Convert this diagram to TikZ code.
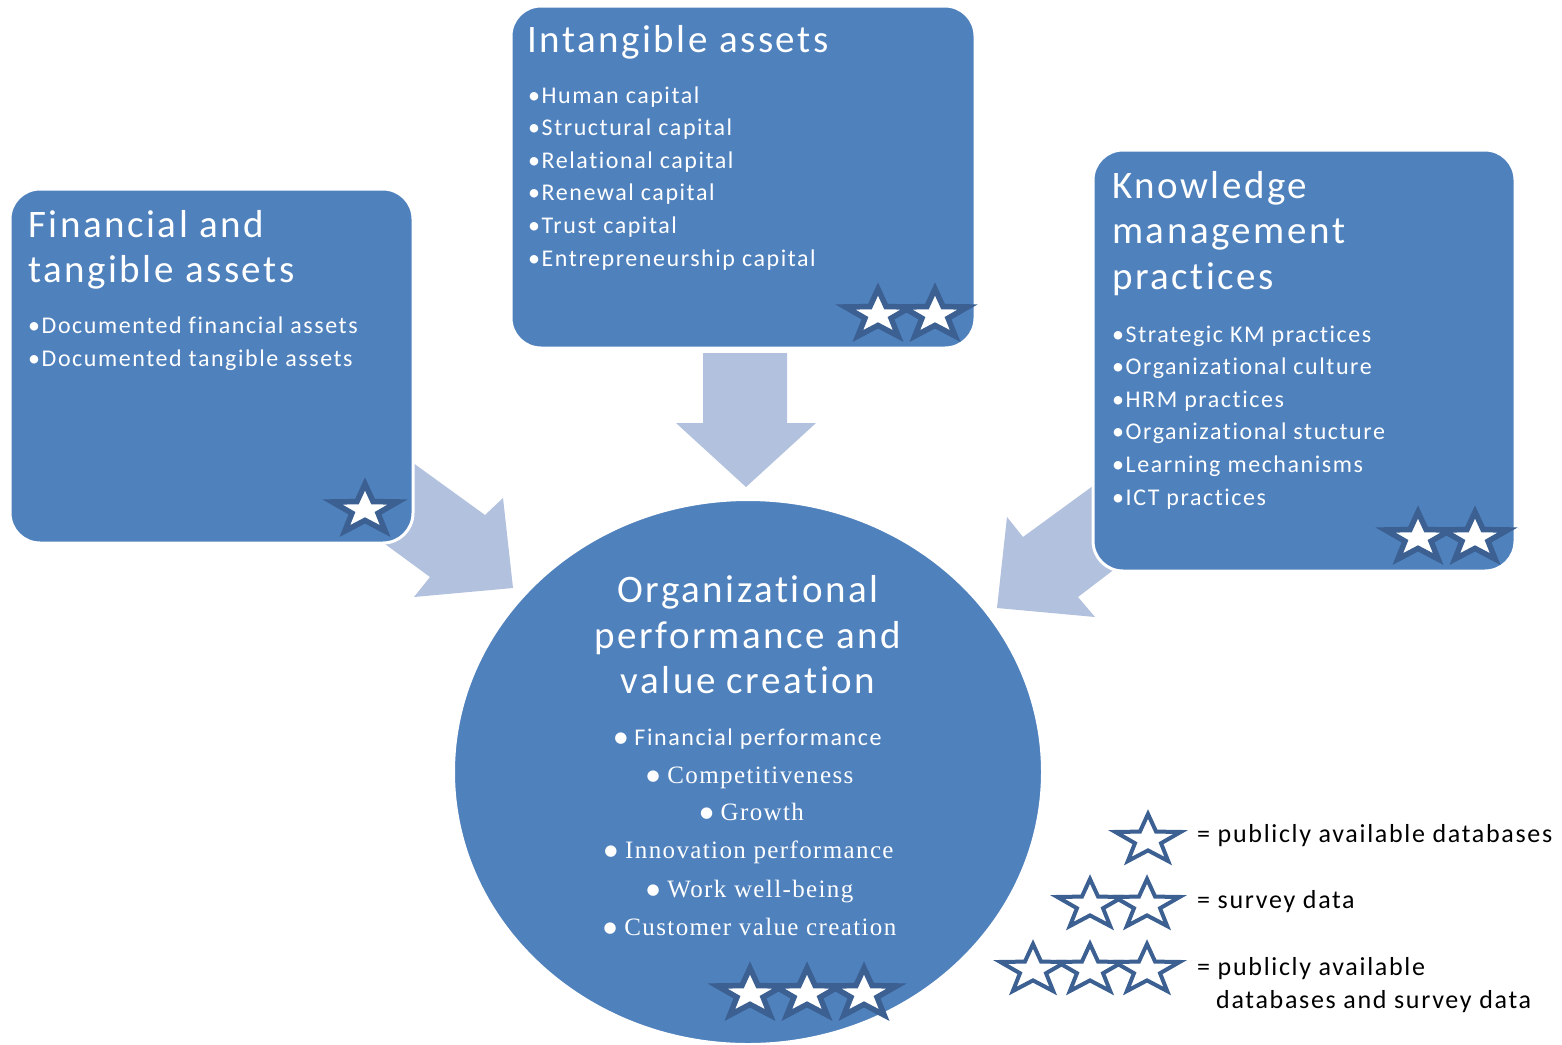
\documentclass[tikz,border=0pt]{standalone}
\usepackage{fontspec}
\setmainfont{Carlito}
\newfontfamily\headfont[LetterSpace=6.5, Ligatures=NoCommon]{Carlito}
\newfontfamily\keyfont[LetterSpace=6.5, Ligatures=NoCommon]{Carlito}
\newfontfamily\romanfont[LetterSpace=5.5]{Liberation Serif}
\newfontfamily\dotfont{DejaVu Sans}
\usetikzlibrary{shapes.geometric}

\definecolor{boxblue}{RGB}{79,129,189}
\definecolor{flowblue}{RGB}{178,193,221}
\definecolor{stardark}{RGB}{59,96,145}

% round bullet used in the list inside the ellipse
\newcommand{\hubdot}{\raisebox{3pt}{\dotfont\fontsize{15pt}{15pt}\selectfont ●}\ }

\tikzset{
  box/.style={rectangle, fill=boxblue, draw=white, line width=3pt,
    rounded corners=30pt, inner sep=0pt, outer sep=0pt},
  hub/.style={ellipse, fill=boxblue, draw=white, line width=2pt,
    inner sep=0pt, outer sep=0pt, minimum width=588pt, minimum height=544pt},
  flow/.style={fill=flowblue},
  headline/.style={text=white, inner sep=0pt, anchor=base west,
    font={\headfont\fontsize{39pt}{46pt}\selectfont}},
  hubline/.style={headline, anchor=base},
  itemline/.style={text=white, inner sep=0pt, anchor=base west,
    font={\headfont\fontsize{24pt}{32pt}\selectfont}},
  hubitem/.style={text=white, inner sep=0pt, anchor=base,
    font={\romanfont\fontsize{25pt}{38pt}\selectfont}},
  keyline/.style={text=black, inner sep=0pt, anchor=base west,
    font={\keyfont\fontsize{26pt}{33pt}\selectfont}},
  boxstar/.style={fill=white, draw=stardark, line width=5.5pt},
  keystar/.style={fill=white, draw=stardark, line width=4pt},
  starmark/.pic={
    \path[pic actions, xscale=1.32] (270:26)
      \foreach \k in {1,...,9}{ -- ({270+36*\k}:{ifthenelse(isodd(\k),10.4,26)}) } -- cycle;
  }
}

\begin{document}
\begin{tikzpicture}[x=1pt, y=-1pt]
  \fill[white] (0,0) rectangle (1562,1044);
  \useasboundingbox (0,0) rectangle (1562,1044);

  % block arrows feeding the central ellipse (drawn beneath the boxes)
  \fill[flow] (703,353) -- (703,423) -- (676,423) -- (746,487)
              -- (816,423) -- (787,423) -- (787,353) -- cycle;
  \fill[flow] (398,452) -- (485,515) -- (503,498) -- (513,588)
              -- (414,597) -- (430,577) -- (370,533) -- cycle;
  \fill[flow] (1112,472) -- (1023,537) -- (1007,517) -- (997,608)
              -- (1095,617) -- (1078,597) -- (1137,552) -- cycle;

  % the three source boxes and the central ellipse
  \node[box, minimum width=403pt, minimum height=354pt] (fin) at (211.5,366) {};
  \node[box, minimum width=464pt, minimum height=342pt] (intang) at (743,177) {};
  \node[box, minimum width=422pt, minimum height=421pt] (km) at (1304,360.5) {};
  \node[hub] (perf) at (748,772) {};

  % Financial and tangible assets
  \node[headline] (finT1) at (28,237) {Financial and};
  \node[headline] (finT2) at (28,282) {tangible assets};
  \node[itemline] (finI1) at (28,333) {•Documented financial assets};
  \node[itemline] (finI2) at (28,366) {•Documented tangible assets};
  \pic[boxstar] at (365,510) {starmark};

  % Intangible assets
  \node[headline] (intT) at (527,52) {Intangible assets};
  \foreach \t [count=\i] in {Human capital, Structural capital, Relational capital,
      Renewal capital, Trust capital, Entrepreneurship capital}
    \node[itemline] (intI\i) at (528,{103+32.6*(\i-1)}) {•\t};
  \pic[boxstar] at (878,315) {starmark};
  \pic[boxstar] at (935,315) {starmark};

  % Knowledge management practices
  \node[headline] (kmT1) at (1112,198) {Knowledge};
  \node[headline] (kmT2) at (1112,243.5) {management};
  \node[headline] (kmT3) at (1112,289) {practices};
  \foreach \t [count=\i] in {Strategic KM practices, Organizational culture, HRM practices,
      Organizational stucture, Learning mechanisms, ICT practices}
    \node[itemline] (kmI\i) at (1112,{342+32.6*(\i-1)}) {•\t};
  \pic[boxstar] at (1418,538) {starmark};
  \pic[boxstar] at (1475,538) {starmark};

  % Organizational performance and value creation
  \node[hubline] (perfT1) at (748,602) {Organizational};
  \node[hubline] (perfT2) at (748,648) {performance and};
  \node[hubline] (perfT3) at (748,693) {value creation};
  \node[itemline, anchor=base] (perfI1) at (748,745) {\hubdot Financial performance};
  \node[hubitem] (perfI2) at (750,783) {\hubdot Competitiveness};
  \node[hubitem] (perfI3) at (752,820) {\hubdot Growth};
  \node[hubitem] (perfI4) at (749,858) {\hubdot Innovation performance};
  \node[hubitem] (perfI5) at (750,897) {\hubdot Work well-being};
  \node[hubitem] (perfI6) at (750,935) {\hubdot Customer value creation};
  \pic[boxstar] at (750,994) {starmark};
  \pic[boxstar] at (807,994) {starmark};
  \pic[boxstar] at (864,994) {starmark};

  % key to the star ratings
  \pic[keystar] at (1148,840) {starmark};
  \node[keyline] (key1) at (1197,842) {= publicly available databases};
  \pic[keystar] at (1090,905) {starmark};
  \pic[keystar] at (1147,905) {starmark};
  \node[keyline] (key2) at (1197,908) {= survey data};
  \pic[keystar] at (1033,970) {starmark};
  \pic[keystar] at (1090,970) {starmark};
  \pic[keystar] at (1147,970) {starmark};
  \node[keyline] (key3) at (1197,975) {= publicly available};
  \node[keyline] (key4) at (1216,1008) {databases and survey data};
\end{tikzpicture}
\end{document}
